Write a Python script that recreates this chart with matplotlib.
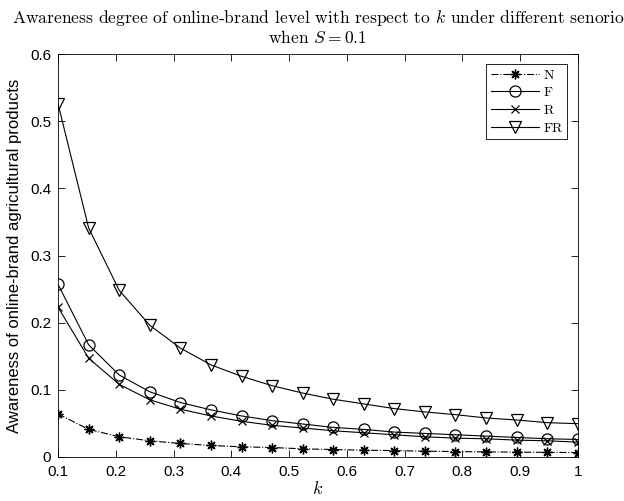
import matplotlib
matplotlib.use("Agg")
import matplotlib.pyplot as plt
from matplotlib.ticker import FuncFormatter

k = [0.1, 0.153, 0.206, 0.259, 0.312, 0.365, 0.418, 0.471, 0.524,
     0.576, 0.629, 0.682, 0.735, 0.788, 0.841, 0.894, 0.947, 1.0]
N = [0.064, 0.041, 0.030, 0.024, 0.020, 0.017, 0.015, 0.014, 0.012,
     0.011, 0.010, 0.0094, 0.0085, 0.008, 0.0075, 0.0071, 0.0068, 0.0065]
F = [0.257, 0.167, 0.122, 0.097, 0.081, 0.070, 0.061, 0.054, 0.049,
     0.044, 0.041, 0.037, 0.035, 0.033, 0.031, 0.029, 0.027, 0.026]
R = [0.223, 0.147, 0.108, 0.085, 0.071, 0.061, 0.053, 0.047, 0.043,
     0.039, 0.036, 0.033, 0.030, 0.028, 0.027, 0.025, 0.024, 0.022]
FR = [0.526, 0.341, 0.248, 0.196, 0.162, 0.137, 0.120, 0.106, 0.095,
      0.086, 0.079, 0.072, 0.067, 0.063, 0.058, 0.055, 0.051, 0.0495]
labels = ["N", "F", "R", "FR"]
xticks = [0.1, 0.2, 0.3, 0.4, 0.5, 0.6, 0.7, 0.8, 0.9, 1.0]
yticks = [0, 0.1, 0.2, 0.3, 0.4, 0.5, 0.6]

plt.rcParams['mathtext.fontset'] = 'cm'
plt.rcParams['font.family'] = ['Liberation Sans', 'DejaVu Sans']

fig = plt.figure(figsize=(6.24, 5.01), dpi=100)
ax = fig.add_axes([0.093, 0.088, 0.833, 0.804])

lw = 0.8
ax.plot(k, N, color='black', linestyle='-.', lw=lw, marker=(8, 2, 0), ms=7,
        mew=1.0, label=labels[0])
ax.plot(k, F, color='black', linestyle='-', lw=lw, marker='o', ms=8,
        mfc='none', mew=0.9, label=labels[1])
ax.plot(k, R, color='black', linestyle='-', lw=lw, marker='x', ms=6,
        mew=0.9, label=labels[2])
ax.plot(k, FR, color='black', linestyle='-', lw=lw, marker='v', ms=9,
        mfc='none', mew=0.9, label=labels[3])

ax.set_xlim(0.1, 1.0)
ax.set_ylim(0, 0.6)
ax.set_xticks(xticks)
ax.set_yticks(yticks)
fmt = FuncFormatter(lambda v, p: '%g' % round(v, 2))
ax.xaxis.set_major_formatter(fmt)
ax.yaxis.set_major_formatter(fmt)
ax.tick_params(direction='in', top=True, right=True, length=5, width=0.6,
               labelsize=11)
ax.tick_params(axis='x', pad=6)
ax.tick_params(axis='y', pad=5)
for s in ax.spines.values():
    s.set_linewidth(0.6)

ax.set_xlabel('$k$', fontsize=13, labelpad=1)
ax.set_ylabel('Awareness of online-brand agricultural products', fontsize=12, labelpad=6)
ax.set_title('Awareness degree of online-brand level with respect to $k$ under different senorio\nwhen $S=0.1$',
             fontsize=12.6, family='cmr10', pad=8, linespacing=1.05)

leg = ax.legend(loc='upper right', bbox_to_anchor=(0.98, 0.975), frameon=True,
                fancybox=False, edgecolor='black', framealpha=1,
                prop={'family': 'cmr10', 'size': 10}, handlelength=3.5,
                borderpad=0.35, labelspacing=0.35, handletextpad=0.3,
                borderaxespad=0)
leg.get_frame().set_linewidth(0.6)

fig.savefig('out.png', dpi=100)
